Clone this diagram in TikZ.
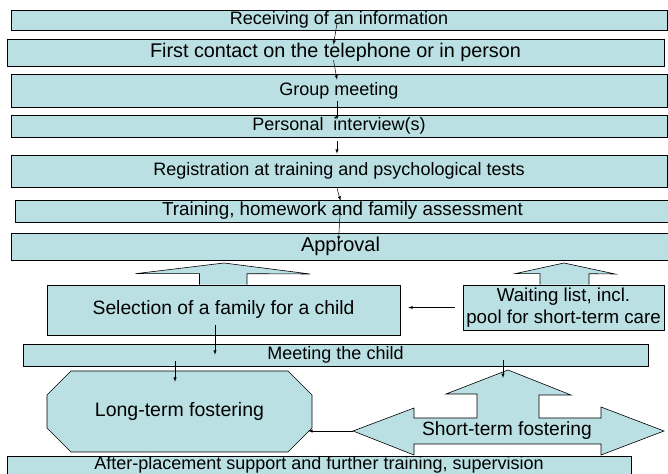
\documentclass[tikz,border=0pt]{standalone}
\usepackage{fontspec}
\setmainfont{Liberation Sans}
\usetikzlibrary{arrows}
\definecolor{boxblue}{RGB}{187,224,227}
\tikzset{bx/.append style={draw, fill=boxblue, line width=0.6pt, inner sep=0pt, font=\fontsize{18pt}{21pt}\selectfont},
         blk/.append style={draw, fill=boxblue, line width=0.6pt},
         ar/.append style={->, >=latex, line width=0.5pt}}

\begin{document}
\begin{tikzpicture}[x=1pt,y=1pt]
                \useasboundingbox (0,0) rectangle (668,473);
                % stacked steps
                \node[bx, minimum width=656pt, minimum height=20pt] (recv) at (339,453) {Receiving of an information};
                \node[bx, minimum width=657pt, minimum height=27pt, font=\fontsize{19.8pt}{22pt}\selectfont] (contact) at (335.5,420.5) {First contact on the telephone or in person};
                \node[bx, minimum width=656pt, minimum height=33pt] (group) at (339,382.5) {Group meeting};
                \node[bx, minimum width=656pt, minimum height=22pt] (interv) at (339,347) {Personal\ \ interview(s)};
                \node[bx, minimum width=656pt, minimum height=32pt] (regist) at (339,302) {Registration at training and psychological tests};
                \node[bx, minimum width=655pt, minimum height=22pt, font=\fontsize{18.8pt}{21pt}\selectfont] (train) at (342.5,262) {Training, homework and family assessment};
                \node[bx, minimum width=659pt, minimum height=27pt, font=\fontsize{20pt}{22pt}\selectfont] (approv) at (340.5,226.5) {Approval};
                \draw[ar] ([shift={(-2,7)}]recv.south) -- ([shift={(-2,-6)}]contact.north);
                \draw[ar] ([shift={(-2,6)}]contact.south) -- ([shift={(-2,-6)}]group.north);
                \draw[ar] ([shift={(-2,6)}]group.south) -- ([shift={(-2,-5)}]interv.north);
                \draw[ar] ([shift={(-2,-4)}]interv.south) -- ([shift={(-2,1)}]regist.north);
                \draw[ar] ([shift={(-2,-1)}]regist.south) -- ([shift={(-2,-1)}]train.north);
                \draw[ar] ([shift={(-2,-6)}]train.north) -- ([shift={(-2,-8)}]approv.north);
                % selection and waiting list
                \node[bx, minimum width=353pt, minimum height=50pt, font=\fontsize{19.3pt}{22pt}\selectfont] (select) at (223.5,163) {Selection of a family for a child};
                \node[bx, minimum width=201pt, minimum height=45pt, align=center, font=\fontsize{18.7pt}{22pt}\selectfont] (wait) at (563.5,165.5) {Waiting list, incl.\\pool for short-term care};
                \draw[blk] ([xshift=-24pt]select.north) -- ++(0,11) -- ++(-64,0) -- (224,210) -- (310,199) -- ([xshift=23.5pt,yshift=11pt]select.north) -- ([xshift=23.5pt]select.north);
                \draw[blk] ([xshift=-23.5pt]wait.north) -- ++(0,11) -- ++(-25,0) -- (564,210) -- (615,199) -- ([xshift=25.5pt,yshift=11pt]wait.north) -- ([xshift=25.5pt]wait.north);
                \draw[ar] ([xshift=-8pt]wait.west) -- ([xshift=8pt]select.east |- wait.west);
                \node[bx, minimum width=625pt, minimum height=22pt] (meet) at (335.5,118) {Meeting the child};
                \draw[ar] ([shift={(-8.5,10)}]select.south) -- ([shift={(-8.5,-11)}]select.south |- meet.north);
                % placements
                \draw[blk] (71,102) -- (288,102) -- (312,78) -- (312,45) -- (288,21) -- (71,21) -- (47,45) -- (47,78) -- cycle;
                \node[minimum width=265pt, minimum height=81pt, inner sep=0pt, font=\fontsize{19.5pt}{22pt}\selectfont] (long) at (179.5,61.5) {Long-term fostering};
                \coordinate (uptip) at (508,103);
                \coordinate (ltip) at (353,42);
                \draw[blk] (ltip) -- (414,65) -- (414,55) -- (477,55) -- (477,79) -- (446,79) -- (uptip) -- (571,78) -- (539,78) -- (539,55) -- (601,55) -- (601,66) -- (664,42) -- (601,18) -- (601,29) -- (414,29) -- (414,18) -- cycle;
                \node[font=\fontsize{19.2pt}{22pt}\selectfont] (short) at (507,42) {Short-term fostering};
                \draw[ar] ([shift={(-4.5,5)}]long.north |- meet.south) -- ([shift={(-4.5,-11)}]long.north);
                \draw[ar] ([shift={(-5,6)}]meet.south -| uptip) -- ([shift={(-5,-8)}]uptip);
                \draw[ar] (ltip) -- ([xshift=-4pt]ltip -| long.east);
                \node[bx, minimum width=624pt, minimum height=20pt, text height=11.5pt, text depth=4.5pt, font=\fontsize{18pt}{21pt}\selectfont] (after) at (319,7) {After-placement support and further training, supervision};
            \end{tikzpicture}
\end{document}
